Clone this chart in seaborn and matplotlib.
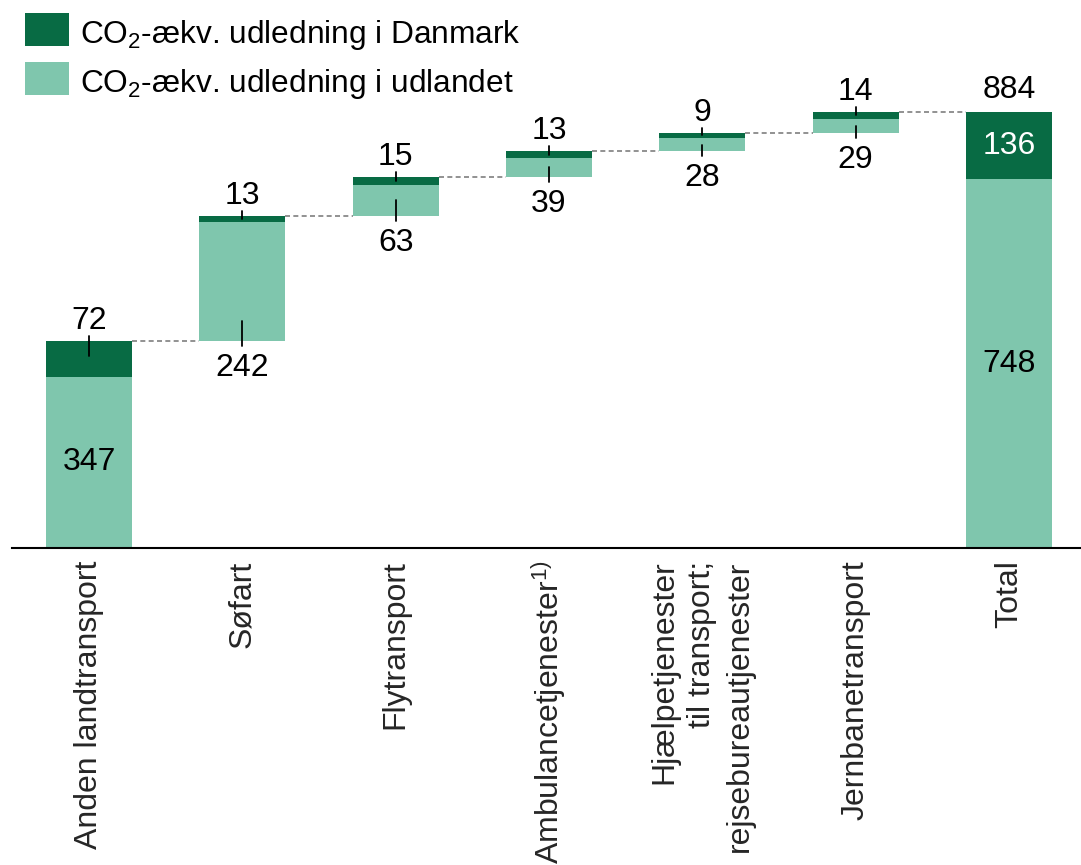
import matplotlib
matplotlib.use("Agg")
import matplotlib.pyplot as plt
import seaborn as sns
import pandas as pd
from matplotlib.patches import Rectangle

# ---------------- data ----------------
categories = ["Anden landtransport", "Søfart", "Flytransport",
              "Ambulancetjenester$^{1)}$",
              "Hjælpetjenester\ntil transport;\nrejsebureautjenester",
              "Jernbanetransport", "Total"]
udland = [347, 242, 63, 39, 28, 29, 748]      # CO2-ækv. udledning i udlandet
danmark = [72, 13, 15, 13, 9, 14, 136]        # CO2-ækv. udledning i Danmark
total_value = 884
legend_labels = ["CO$_2$-ækv. udledning i Danmark", "CO$_2$-ækv. udledning i udlandet"]

# ---------------- style ----------------
sns.set_theme(style="white")
plt.rcParams['font.family'] = ['Liberation Sans', 'DejaVu Sans']
plt.rcParams['mathtext.default'] = 'regular'

DARK = "#086b44"
LIGHT = "#7fc6ad"
FS = 23

W, H = 1081, 865
fig = plt.figure(figsize=(W / 100, H / 100), dpi=100)
ax_bottom_px, ax_top_px, ax_left_px = 548, 5, 12
ax = fig.add_axes([ax_left_px / W, (H - ax_bottom_px) / H,
                   (W - ax_left_px) / W, (ax_bottom_px - ax_top_px) / H])
scale = 436 / 884          # pixels per unit
px = 1 / scale
ymax = (ax_bottom_px - ax_top_px) * px

n = len(categories)
base_u, base_d = [], []
cum = 0
for i in range(n - 1):
    base_u.append(cum)
    base_d.append(cum + udland[i])
    cum += udland[i] + danmark[i]
base_u.append(0)
base_d.append(udland[-1])

df = pd.DataFrame({"kategori": categories, "udland": udland, "danmark": danmark})
sns.barplot(data=df, x="kategori", y="udland", order=categories, bottom=base_u,
            color=LIGHT, saturation=1, width=0.56, errorbar=None, linewidth=0, ax=ax)
sns.barplot(data=df, x="kategori", y="danmark", order=categories, bottom=base_d,
            color=DARK, saturation=1, width=0.56, errorbar=None, linewidth=0, ax=ax)

hw = 0.28
# connectors
for i in range(n - 1):
    lvl = base_d[i] + danmark[i]
    ax.plot([i + hw, i + 1 - hw], [lvl, lvl], color="#7f7f7f", lw=1.2,
            ls=(0, (3, 2)), zorder=1)

# labels
for i in range(n):
    top = base_d[i] + danmark[i]
    if i == n - 1:
        ax.text(i, top + 7 * px, str(total_value), ha="center", va="bottom", fontsize=FS, color="black")
        ax.text(i, base_d[i] + danmark[i] / 2, str(danmark[i]), ha="center", va="center", fontsize=FS, color="white")
        ax.text(i, base_u[i] + udland[i] / 2, str(udland[i]), ha="center", va="center", fontsize=FS, color="black")
        continue
    dh = danmark[i]
    ax.plot([i, i], [top + 5 * px, top - min(dh / 2, 15 * px)], color="black", lw=1.3, zorder=4)
    ax.text(i, top + 5 * px, str(danmark[i]), ha="center", va="bottom", fontsize=FS, color="black")
    if base_u[i] == 0:
        ax.text(i, udland[i] / 2, str(udland[i]), ha="center", va="center", fontsize=FS, color="black")
    else:
        b = base_u[i]
        lh = udland[i]
        ax.plot([i, i], [b - 5 * px, b + min(lh / 2, 20 * px)], color="black", lw=1.3, zorder=4)
        ax.text(i, b - 12 * px, str(udland[i]), ha="center", va="top", fontsize=FS, color="black")

ax.set_xlim((ax_left_px - 89) / 153.33, (W - 89) / 153.33)
ax.set_ylim(0, ymax)
ax.set_xticks(range(n))
ax.set_xticklabels(categories, rotation=90, ha="center", va="top",
                   multialignment="right", fontsize=FS, linespacing=1.33)
ax.tick_params(axis="x", length=0, pad=9)
ax.set_yticks([])
ax.set_xlabel("")
ax.set_ylabel("")
for s in ["top", "left", "right"]:
    ax.spines[s].set_visible(False)
ax.spines["bottom"].set_color("black")
ax.spines["bottom"].set_linewidth(1.5)
ax.patch.set_alpha(0)

# legend
for (y0, col, lab, base) in [(13, DARK, legend_labels[0], 43), (62, LIGHT, legend_labels[1], 92)]:
    fig.add_artist(Rectangle((25 / W, 1 - (y0 + 33) / H), 44 / W, 33 / H,
                             transform=fig.transFigure, color=col, lw=0))
    fig.text(80 / W, 1 - base / H, lab, fontsize=22.8, va="baseline", ha="left", color="black")

fig.savefig("out.png", dpi=100)
